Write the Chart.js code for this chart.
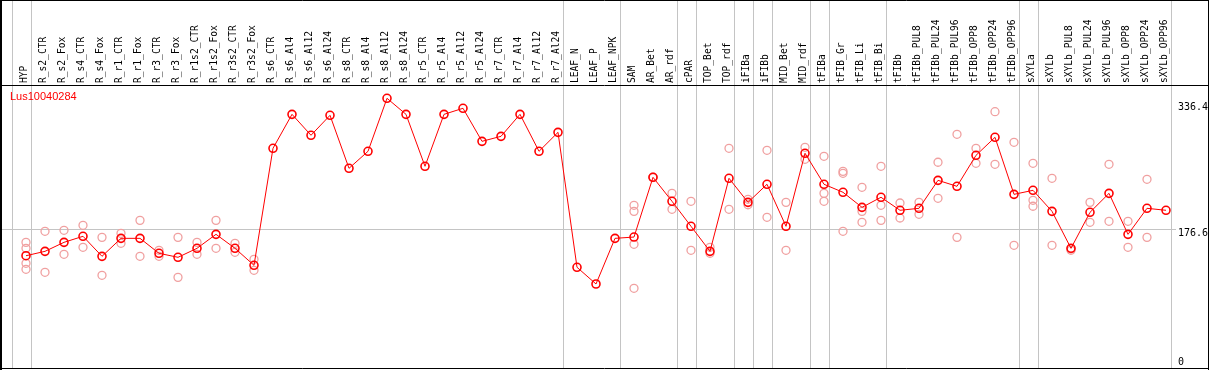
<!DOCTYPE html>
<html>
<head>
<meta charset="utf-8">
<script src="https://cdn.jsdelivr.net/npm/chart.js@4/dist/chart.umd.min.js"></script>
<style>
html,body{margin:0;padding:0;background:#fff;}
#wrap{width:1209px;height:370px;position:relative;}
</style>
</head>
<body>
<div id="wrap"><canvas id="c" width="1209" height="370"></canvas></div>
<script>
const title = "Lus10040284";
const categories = ["HYP","R_s2_CTR","R_s2_Fox","R_s4_CTR","R_s4_Fox","R_r1_CTR","R_r1_Fox","R_r3_CTR","R_r3_Fox","R_r1s2_CTR","R_r1s2_Fox","R_r3s2_CTR","R_r3s2_Fox","R_s6_CTR","R_s6_Al4","R_s6_Al12","R_s6_Al24","R_s8_CTR","R_s8_Al4","R_s8_Al12","R_s8_Al24","R_r5_CTR","R_r5_Al4","R_r5_Al12","R_r5_Al24","R_r7_CTR","R_r7_Al4","R_r7_Al12","R_r7_Al24","LEAF_N","LEAF_P","LEAF_NPK","SAM","AR_Bet","AR_rdf","cPAR","TOP_Bet","TOP_rdf","iFIBa","iFIBb","MID_Bet","MID_rdf","tFIBa","tFIB_Gr","tFIB_Li","tFIB_Bi","tFIBb","tFIBb_PUL8","tFIBb_PUL24","tFIBb_PUL96","tFIBb_OPP8","tFIBb_OPP24","tFIBb_OPP96","sXYLa","sXYLb","sXYLb_PUL8","sXYLb_PUL24","sXYLb_PUL96","sXYLb_OPP8","sXYLb_OPP24","sXYLb_OPP96"];
const meanValues = [140.6,146.4,158.3,166.3,139.8,163.6,163.6,143.8,138.5,150.4,168.9,150.4,127.9,282.7,327.6,299.9,326.3,256.2,278.7,348.8,327.6,258.9,327.6,335.6,291.9,298.5,327.6,278.7,303.8,125.3,103.2,163.6,165.3,244.3,212.6,179.5,146.4,243.0,211.2,235.1,179.5,276.1,235.1,224.5,204.6,217.9,200.7,203.3,240.3,232.4,273.4,297.2,221.8,227.1,199.3,150.4,198.0,223.1,168.9,203.3,200.7];
const replicateValues = [
  [158.3,150.4,130.6,122.6],[172.9,118.7],[174.2,142.5],[180.8,151.7],[164.9,114.7],
  [170.2,157.0],[187.4,139.8],[147.8,139.8],[164.9,112.0],[158.3,142.5],
  [187.4,150.4],[157.0,145.1],[135.8,121.3],[],[],[],[],[],[],[],[],[],[],[],[],[],[],[],[],[],[],[],
  [207.3,199.3,155.7,97.5],[244.0,244.6],[223.1,202.0],[212.6,147.8],[151.7,143.8],[282.7,202.0],
  [215.2,208.0],[280.0,191.4],[211.2,147.8],[284.0,268.1],[272.1,223.1,212.6],[252.2,249.6,172.9],
  [231.1,199.3,184.8],[258.9,207.3,187.4],[210.3,190.5],[211.2,195.4],[264.2,216.5],[301.2,164.9],
  [282.7,262.8],[331.1,261.5],[290.6,154.4],[262.8,213.9,206.0],[243.0,154.4],[147.8,149.5],
  [211.2,184.8],[261.5,186.1],[186.1,151.7],[241.7,164.9],[]
];
const groupEnds = [-1,0,28,31,34,35,37,38,39,41,42,45,52,53,60];
const tickValues = [336.4,176.6,0];
const tickLabels = ["336.4","176.6","0"];
const gridValue = 176.6;

const meanData = meanValues.map((v,i)=>({x:i,y:v}));
const repData = [];
replicateValues.forEach((arr,i)=>arr.forEach(v=>repData.push({x:i,y:v})));

const deco = {
  id:'deco',
  beforeDraw(chart){
    const ctx = chart.ctx;
    ctx.save();
    ctx.fillStyle = '#fff';
    ctx.fillRect(0,0,chart.width,chart.height);
    ctx.restore();
  },
  beforeDatasetsDraw(chart){
    const ctx = chart.ctx, xs = chart.scales.x, ys = chart.scales.y;
    ctx.save();
    ctx.strokeStyle = '#c4c4c4';
    ctx.lineWidth = 1;
    groupEnds.forEach(g=>{
      const px = Math.round(xs.getPixelForValue(g)+5)+0.5;
      ctx.beginPath(); ctx.moveTo(px,0); ctx.lineTo(px,368); ctx.stroke();
    });
    const gy = Math.round(ys.getPixelForValue(gridValue))+0.5;
    ctx.beginPath(); ctx.moveTo(0,gy); ctx.lineTo(1176,gy); ctx.stroke();
    ctx.restore();
  },
  afterDraw(chart){
    const ctx = chart.ctx, xs = chart.scales.x, ys = chart.scales.y;
    ctx.save();
    ctx.strokeStyle = '#000';
    ctx.lineWidth = 1;
    ctx.beginPath();
    ctx.moveTo(0,0.5); ctx.lineTo(1209,0.5);
    ctx.moveTo(0,85.5); ctx.lineTo(1209,85.5);
    ctx.moveTo(0,368.5); ctx.lineTo(1209,368.5);
    ctx.moveTo(1208.5,0); ctx.lineTo(1208.5,370);
    ctx.stroke();
    ctx.lineWidth = 2;
    ctx.beginPath(); ctx.moveTo(1,0); ctx.lineTo(1,370); ctx.stroke();
    ctx.fillStyle = '#000';
    ctx.font = '9.6px "DejaVu Sans Mono", monospace';
    ctx.textAlign = 'left';
    ctx.textBaseline = 'middle';
    categories.forEach((c,i)=>{
      const px = xs.getPixelForValue(i) - 2;
      ctx.save();
      ctx.translate(px, 83);
      ctx.rotate(-Math.PI/2);
      ctx.fillText(c, 0, 0);
      ctx.restore();
    });
    ctx.font = '10px "DejaVu Sans Mono", monospace';
    tickValues.forEach((v,k)=>{
      let py = ys.getPixelForValue(v);
      if (v === gridValue) py += 4.5;
      ctx.fillText(tickLabels[k], 1178, py);
    });
    ctx.fillStyle = '#ff0000';
    ctx.font = '11px "Liberation Sans", Arial, sans-serif';
    ctx.fillText(title, 10, 97);
    ctx.restore();
  }
};

new Chart(document.getElementById('c'), {
  type:'line',
  data:{
    datasets:[
      {
        label:'mean',
        data:meanData,
        borderColor:'#ff0000',
        borderWidth:1,
        pointStyle:'circle',
        pointRadius:4,
        pointBorderWidth:1.6,
        pointBorderColor:'#ff0000',
        pointBackgroundColor:'rgba(0,0,0,0)',
        fill:false,
        tension:0,
        clip:false,
        order:0
      },
      {
        label:'replicates',
        type:'scatter',
        data:repData,
        showLine:false,
        pointStyle:'circle',
        pointRadius:4,
        pointBorderWidth:1.3,
        pointBorderColor:'#f0a0a0',
        pointBackgroundColor:'rgba(0,0,0,0)',
        clip:false,
        order:1
      }
    ]
  },
  options:{
    responsive:false,
    animation:false,
    events:[],
    layout:{autoPadding:false,padding:{left:1,right:1,top:85,bottom:2}},
    plugins:{legend:{display:false},tooltip:{enabled:false},title:{display:false}},
    scales:{
      x:{type:'linear',display:false,min:-25/19,max:-25/19+1207/19},
      y:{type:'linear',display:false,min:-7.9,max:366.4}
    }
  },
  plugins:[deco]
});
</script>
</body>
</html>
